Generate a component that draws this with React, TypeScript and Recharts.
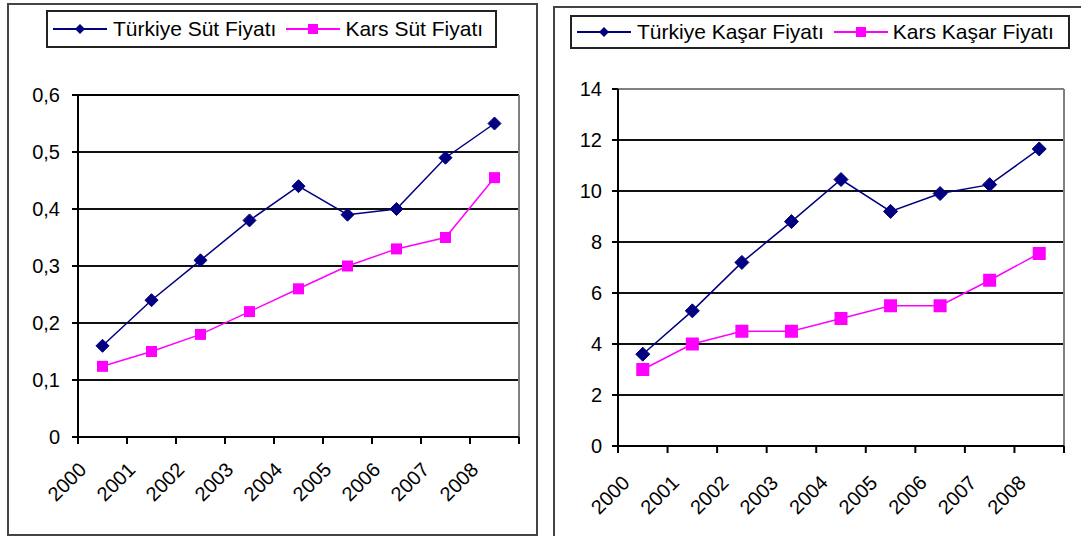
import React from 'react';
import { LineChart, Line, XAxis, YAxis, CartesianGrid, ReferenceLine } from 'recharts';

const years = ['2000', '2001', '2002', '2003', '2004', '2005', '2006', '2007', '2008'];

const turkiyeSut = [0.16, 0.24, 0.31, 0.38, 0.44, 0.39, 0.4, 0.49, 0.55];
const karsSut = [0.124, 0.15, 0.18, 0.22, 0.26, 0.3, 0.33, 0.35, 0.455];
const sutTicks = [0, 0.1, 0.2, 0.3, 0.4, 0.5, 0.6];

const turkiyeKasar = [3.6, 5.3, 7.2, 8.8, 10.45, 9.2, 9.9, 10.25, 11.65];
const karsKasar = [3.0, 4.0, 4.5, 4.5, 5.0, 5.5, 5.5, 6.5, 7.55];
const kasarTicks = [0, 2, 4, 6, 8, 10, 12, 14];

const NAVY = '#000080';
const MAGENTA = '#FF00FF';
const FONT = '"Liberation Sans", Arial, sans-serif';

const yearTicks = years.map((_, i) => i).concat(years.length);

function buildRows(a: number[], b: number[]) {
  return years.map((year, i) => ({ x: i + 0.5, year, turkiye: a[i], kars: b[i] }));
}

const diamond = (size: number) => (props: any) => {
  const { cx, cy, index } = props;
  const h = size / 2;
  return (
    <path
      key={'d' + index}
      d={`M${cx},${cy - h}L${cx + h},${cy}L${cx},${cy + h}L${cx - h},${cy}Z`}
      fill={NAVY}
      stroke={NAVY}
    />
  );
};

const square = (size: number) => (props: any) => {
  const { cx, cy, index } = props;
  return (
    <rect key={'s' + index} x={cx - size / 2} y={cy - size / 2} width={size} height={size} fill={MAGENTA} />
  );
};

type ChartProps = {
  left: number;
  top: number;
  width: number;
  height: number;
  margin: { top: number; right: number; bottom: number; left: number };
  yWidth: number;
  rows: { x: number; year: string; turkiye: number; kars: number }[];
  ticks: number[];
  decimals: boolean;
  tickMargin: number;
  diamondSize: number;
  squareSize: number;
  labelDx: number;
  labelDy: number;
  topColor: string;
};

function PriceChart(p: ChartProps) {
  const plotWidth = p.width - p.margin.left - p.margin.right - p.yWidth;
  const step = plotWidth / years.length;
  const yMax = p.ticks[p.ticks.length - 1];

  const YearTick = (props: any) => {
    const { x, y, payload } = props;
    const idx = payload.value;
    if (idx >= years.length) return <g />;
    const px = x + step / 2 + p.labelDx;
    const py = y + p.labelDy;
    return (
      <text
        x={px}
        y={py}
        textAnchor="end"
        fontSize={20}
        fontFamily={FONT}
        fill="#000"
        transform={`rotate(-45 ${px} ${py})`}
      >
        {years[idx]}
      </text>
    );
  };

  return (
    <div style={{ position: 'absolute', left: p.left, top: p.top }}>
      <LineChart width={p.width} height={p.height} data={p.rows} margin={p.margin}>
        <CartesianGrid horizontal vertical={false} stroke="#111" strokeWidth={2} />
        <XAxis
          type="number"
          dataKey="x"
          domain={[0, years.length]}
          ticks={yearTicks}
          interval={0}
          height={60}
          tickSize={7}
          axisLine={{ stroke: '#000', strokeWidth: 2 }}
          tickLine={{ stroke: '#000', strokeWidth: 2 }}
          tick={<YearTick />}
        />
        <YAxis
          type="number"
          domain={[0, yMax]}
          ticks={p.ticks}
          interval={0}
          width={p.yWidth}
          tickSize={6}
          tickMargin={p.tickMargin}
          axisLine={{ stroke: '#000', strokeWidth: 2 }}
          tickLine={{ stroke: '#000', strokeWidth: 2 }}
          tick={{ fill: '#000', fontSize: 20, fontFamily: FONT }}
          tickFormatter={(v: number) => (v === 0 ? '0' : p.decimals ? v.toFixed(1).replace('.', ',') : String(v))}
        />
        <ReferenceLine y={yMax} stroke={p.topColor} strokeWidth={2} />
        <ReferenceLine x={years.length} stroke="#808080" strokeWidth={2} />
        <Line
          type="linear"
          dataKey="turkiye"
          stroke={NAVY}
          strokeWidth={1.5}
          dot={diamond(p.diamondSize)}
          isAnimationActive={false}
        />
        <Line
          type="linear"
          dataKey="kars"
          stroke={MAGENTA}
          strokeWidth={1.5}
          dot={square(p.squareSize)}
          isAnimationActive={false}
        />
      </LineChart>
    </div>
  );
}

function LegendMarker({ color, shape }: { color: string; shape: 'diamond' | 'square' }) {
  return (
    <svg width={54} height={20} style={{ display: 'block' }}>
      <line x1={0} y1={10} x2={54} y2={10} stroke={color} strokeWidth={2} />
      {shape === 'diamond' ? (
        <path d="M27,5L32,10L27,15L22,10Z" fill={color} />
      ) : (
        <rect x={22} y={5} width={10} height={10} fill={color} />
      )}
    </svg>
  );
}

function ChartLegend({ left, top, width, height, names }: { left: number; top: number; width: number; height: number; names: string[] }) {
  return (
    <div
      style={{
        position: 'absolute',
        left,
        top,
        width,
        height,
        boxSizing: 'border-box',
        border: '2px solid #222',
        display: 'flex',
        alignItems: 'center',
        paddingLeft: 5,
        fontFamily: FONT,
        fontSize: 21,
        color: '#000',
        whiteSpace: 'nowrap',
      }}
    >
      <LegendMarker color={NAVY} shape="diamond" />
      <span style={{ marginLeft: 6, marginRight: 10 }}>{names[0]}</span>
      <LegendMarker color={MAGENTA} shape="square" />
      <span style={{ marginLeft: 5 }}>{names[1]}</span>
    </div>
  );
}

export default function App() {
  return (
    <div style={{ position: 'absolute', left: 0, top: 0, width: 1081, height: 536, overflow: 'hidden', background: '#fff' }}>
      <div style={{ position: 'absolute', left: 7, top: 3, width: 531, height: 533, boxSizing: 'border-box', border: '2px solid #444' }} />
      <div style={{ position: 'absolute', left: 553, top: 6, width: 600, height: 600, boxSizing: 'border-box', border: '2px solid #444' }} />

      <ChartLegend left={46} top={10} width={451} height={38} names={['Türkiye Süt Fiyatı', 'Kars Süt Fiyatı']} />
      <ChartLegend left={570} top={15} width={500} height={34} names={['Türkiye Kaşar Fiyatı', 'Kars Kaşar Fiyatı']} />

      <PriceChart
        left={8}
        top={4}
        width={529}
        height={531}
        margin={{ top: 91, right: 18, left: 10, bottom: 38 }}
        yWidth={60}
        rows={buildRows(turkiyeSut, karsSut)}
        ticks={sutTicks}
        decimals
        tickMargin={12}
        diamondSize={13}
        squareSize={11}
        labelDx={-15}
        labelDy={25}
        topColor="#000"
      />
      <PriceChart
        left={554}
        top={7}
        width={527}
        height={529}
        margin={{ top: 82, right: 17, left: 4, bottom: 30 }}
        yWidth={60}
        rows={buildRows(turkiyeKasar, karsKasar)}
        ticks={kasarTicks}
        decimals={false}
        tickMargin={10}
        diamondSize={14}
        squareSize={13}
        labelDx={-12}
        labelDy={29}
        topColor="#808080"
      />
    </div>
  );
}
